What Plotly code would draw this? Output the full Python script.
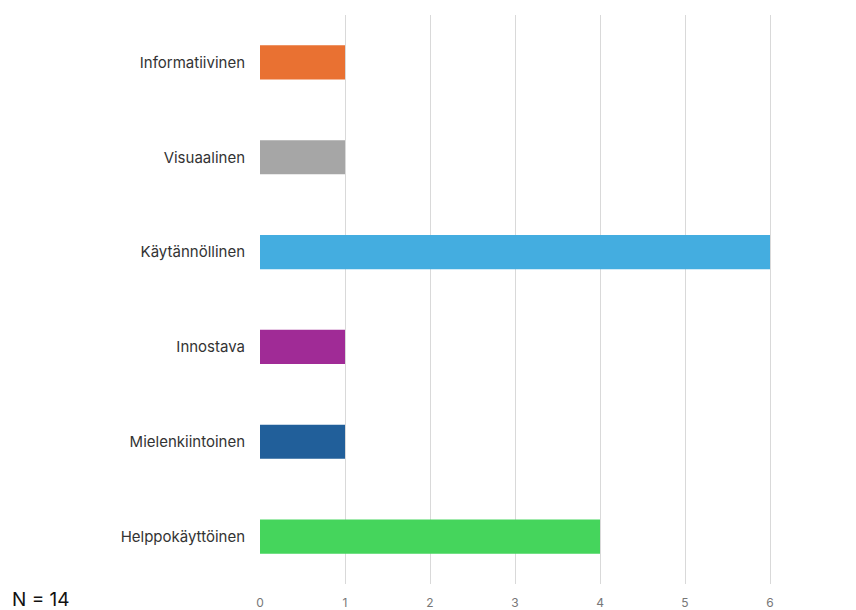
import plotly.graph_objects as go

categories = ["Informatiivinen", "Visuaalinen", "Käytännöllinen", "Innostava", "Mielenkiintoinen", "Helppokäyttöinen"]
values = [1, 1, 6, 1, 1, 4]
colors = ["#E97132", "#A6A6A6", "#44ADE0", "#A02B96", "#215F9A", "#45D55C"]
tick_vals = [0, 1, 2, 3, 4, 5, 6, 7]
note = "N = 14"

fig = go.Figure(go.Bar(
    y=categories, x=values, orientation="h",
    marker=dict(color=colors, line=dict(width=0)),
    width=0.36,
))

fig.update_layout(
    width=848, height=602,
    margin=dict(l=252, r=1, t=6.5, b=25.5, autoexpand=False),
    paper_bgcolor="white", plot_bgcolor="white",
    showlegend=False,
    font=dict(family="Inter, Roboto, sans-serif"),
    xaxis=dict(range=[0, 7], tickvals=tick_vals, showgrid=True, gridcolor="#D9D9D9",
               gridwidth=1, zeroline=False, showline=False, automargin=False,
               tickfont=dict(size=12, color="#777777"), ticks="", ticklabelstandoff=10,
               ticklabeloverflow="allow"),
    yaxis=dict(autorange="reversed", showgrid=False, showline=False, ticks="", automargin=False,
               tickfont=dict(size=15, color="#333333"), ticklabelstandoff=14),
)
fig.add_annotation(text=note, xref="paper", yref="paper", x=-250/595, y=-(592-576.5)/570,
                   xanchor="left", yanchor="middle", showarrow=False,
                   font=dict(size=19, color="#111111"))

fig.write_html("out.html")
